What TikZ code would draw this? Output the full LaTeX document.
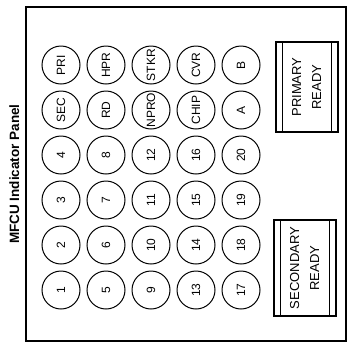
\documentclass[tikz,border=0pt]{standalone}
\usepackage{fontspec}
\setmainfont{Liberation Sans}
\usetikzlibrary{positioning}

\newcommand{\vtext}[1]{\rotatebox{90}{#1}}

\begin{document}
\begin{tikzpicture}[
  x=1pt, y=-1pt,
  node distance=6pt,
  lamp/.style={circle, draw, line width=1pt, minimum size=38pt, inner sep=0pt, font=\fontsize{12}{14}\selectfont},
  readybox/.style={draw, line width=1.3pt, minimum width=62pt, inner sep=0pt, font=\fontsize{13}{20}\selectfont},
  edge line/.style={line width=0.8pt}
]
\useasboundingbox (0,0) rectangle (350,349);

% Panel and title
\node[draw, line width=1.2pt, minimum width=320pt, minimum height=334pt, inner sep=0pt] (panel) at (186,174) {};
\node[left=6pt of panel, inner sep=0pt, font=\fontsize{13.5}{16}\selectfont\bfseries] (title) {\vtext{MFCU Indicator Panel}};

% Row 1
\node[lamp] (pri) at (61,65) {\vtext{PRI}};
\node[lamp, right=of pri] (hpr) {\vtext{HPR}};
\node[lamp, right=of hpr] (stkr) {\vtext{STKR}};
\node[lamp, right=of stkr] (cvr) {\vtext{CVR}};
\node[lamp, right=of cvr] (lampb) {\vtext{B}};

% Row 2
\node[lamp, below=of pri] (sec) {\vtext{SEC}};
\node[lamp, right=of sec] (rd) {\vtext{RD}};
\node[lamp, right=of rd] (npro) {\vtext{NPRO}};
\node[lamp, right=of npro] (chip) {\vtext{CHIP}};
\node[lamp, right=of chip] (lampa) {\vtext{A}};

% Row 3
\node[lamp, below=of sec] (n4) {\vtext{4}};
\node[lamp, right=of n4] (n8) {\vtext{8}};
\node[lamp, right=of n8] (n12) {\vtext{12}};
\node[lamp, right=of n12] (n16) {\vtext{16}};
\node[lamp, right=of n16] (n20) {\vtext{20}};

% Row 4
\node[lamp, below=of n4] (n3) {\vtext{3}};
\node[lamp, right=of n3] (n7) {\vtext{7}};
\node[lamp, right=of n7] (n11) {\vtext{11}};
\node[lamp, right=of n11] (n15) {\vtext{15}};
\node[lamp, right=of n15] (n19) {\vtext{19}};

% Row 5
\node[lamp, below=of n3] (n2) {\vtext{2}};
\node[lamp, right=of n2] (n6) {\vtext{6}};
\node[lamp, right=of n6] (n10) {\vtext{10}};
\node[lamp, right=of n10] (n14) {\vtext{14}};
\node[lamp, right=of n14] (n18) {\vtext{18}};

% Row 6
\node[lamp, below=of n2] (n1) {\vtext{1}};
\node[lamp, right=of n1] (n5) {\vtext{5}};
\node[lamp, right=of n5] (n9) {\vtext{9}};
\node[lamp, right=of n9] (n13) {\vtext{13}};
\node[lamp, right=of n13] (n17) {\vtext{17}};

% Ready indicators
\node[readybox, minimum height=90pt] (prim) at (307,87) {\vtext{\begin{tabular}{@{}c@{}}PRIMARY\\READY\end{tabular}}};
\node[readybox, minimum height=96pt] (secnd) at (305,268) {\vtext{\begin{tabular}{@{}c@{}}SECONDARY\\READY\end{tabular}}};

\draw[edge line] ([xshift=7pt]prim.north west) -- ([xshift=7pt]prim.south west);
\draw[edge line] ([xshift=-7pt]prim.north east) -- ([xshift=-7pt]prim.south east);
\draw[edge line] ([xshift=7pt]secnd.north west) -- ([xshift=7pt]secnd.south west);
\draw[edge line] ([xshift=-7pt]secnd.north east) -- ([xshift=-7pt]secnd.south east);
\end{tikzpicture}
\end{document}
